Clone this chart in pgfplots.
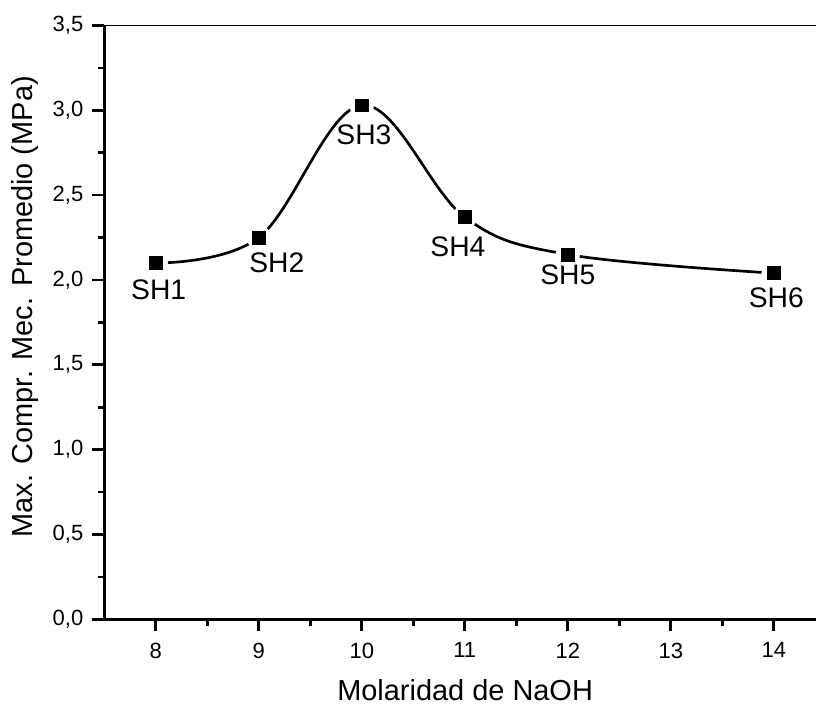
\documentclass[border=0pt]{standalone}
\usepackage{pgfplots}
\pgfplotsset{compat=1.18}
\usepackage{pgfplotstable}
\usepackage{fontspec}
\setmainfont{Liberation Sans}

% Resistencia a compresión promedio según la molaridad del NaOH
\pgfplotstableread{
x   y
8   2.10
9   2.25
10  3.03
11  2.37
12  2.15
14  2.04
}\datos

\newcommand\tickfont{\fontsize{16.5}{19}\selectfont}

\begin{document}
\begin{tikzpicture}
\begin{axis}[
  scale only axis,
  width=533.8pt, height=445.35pt,
  xmin=7.5, xmax=14.41, ymin=0, ymax=3.5,
  axis x line*=bottom, axis y line*=left,
  axis line style={line width=2pt, -},
  xtick={8,...,14}, ytick={0,0.5,...,3.5},
  minor x tick num=1, minor y tick num=1,
  tick align=outside,
  major tick length=9pt, minor tick length=4.8pt,
  tick style={black, line width=2pt},
  /pgf/number format/assume math mode=true,
  xticklabel={\tickfont\pgfmathprintnumber{\tick}},
  yticklabel={\tickfont\pgfmathprintnumber[use comma,fixed,fixed zerofill,precision=1]{\tick}},
  tick label style={inner sep=0pt},
  xticklabel style={anchor=north, yshift=-8.4pt},
  yticklabel style={anchor=east, xshift=-6.5pt},
  xlabel={Molaridad de NaOH},
  ylabel={Max. Compr. Mec. Promedio (MPa)},
  label style={font=\fontsize{21.7}{25}\selectfont},
  x label style={at={(axis description cs:0.507,-0.119)}, anchor=center},
  y label style={at={(axis description cs:-0.111,0.526)}, anchor=center},
  clip=false,
]
\coordinate (sw) at (rel axis cs:0,0);
\coordinate (ne) at (rel axis cs:1,1);
\draw[line width=1pt] (rel axis cs:0,1) -- (rel axis cs:1,1);

% curva suavizada
\addplot[black, line width=2pt, smooth, tension=0.6, no markers] table {\datos};
% hueco blanco alrededor de cada punto
\addplot[only marks, mark=*, mark size=9pt, white] table {\datos};
% puntos
\addplot[only marks, mark=square*, mark size=4.8pt, black] table {\datos};

\begin{scope}[every node/.style={font=\fontsize{21.2}{24}\selectfont, inner sep=0pt}]
\node[xshift=2.2pt,  yshift=-20pt]   at (axis cs:8,2.10)  {SH1};
\node[xshift=13.5pt, yshift=-19.3pt] at (axis cs:9,2.25)  {SH2};
\node[xshift=1.6pt,  yshift=-21.9pt] at (axis cs:10,3.03) {SH3};
\node[xshift=-5.1pt, yshift=-22.5pt] at (axis cs:11,2.37) {SH4};
\node[xshift=0pt,    yshift=-15.5pt] at (axis cs:12,2.15) {SH5};
\node[xshift=1.9pt,  yshift=-18.8pt] at (axis cs:14,2.04) {SH6};
\end{scope}
\end{axis}
\pgfresetboundingbox
\path[use as bounding box] ([shift={(-78.2pt,-65.8pt)}]sw) rectangle ([shift={(0pt,19.1pt)}]ne);
\end{tikzpicture}
\end{document}
